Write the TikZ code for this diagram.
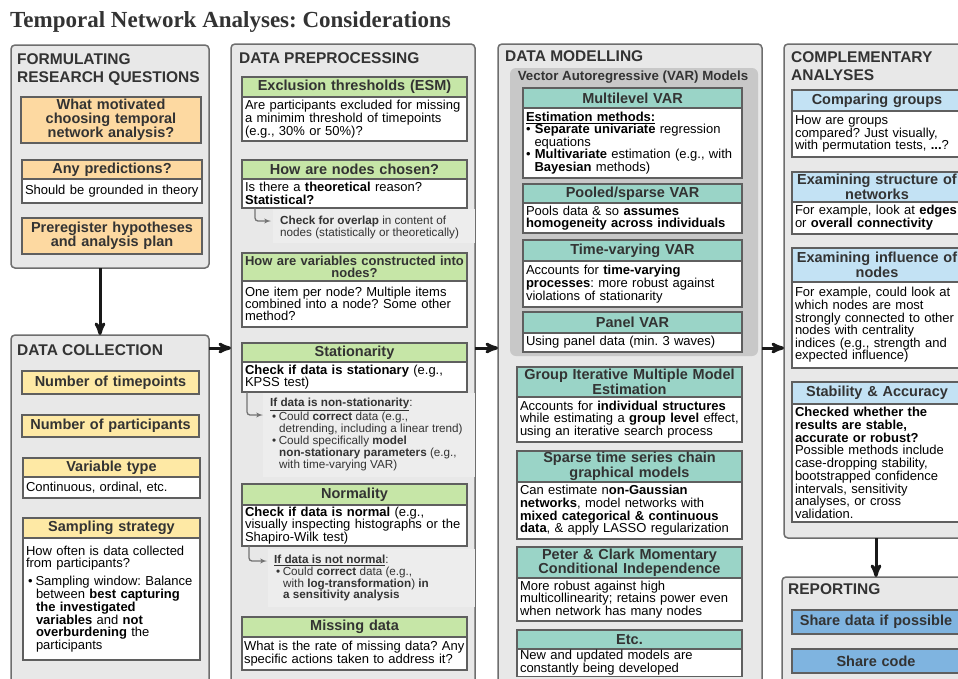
\documentclass[tikz,border=0pt]{standalone}
\usepackage{fontspec}
\setmainfont{Liberation Sans}
\newfontfamily\headlinefont{Liberation Serif}
\usetikzlibrary{arrows,positioning}

\definecolor{ink}{HTML}{333333}
\definecolor{panelgray}{HTML}{E8E8E8}
\definecolor{paneledge}{HTML}{6E6E6E}
\definecolor{boxedge}{HTML}{5F5F5F}
\definecolor{varbg}{HTML}{C8C8C8}
\definecolor{notebg}{HTML}{EDEDED}
\definecolor{orangehd}{HTML}{FDD9A1}
\definecolor{yellowhd}{HTML}{FEE9A5}
\definecolor{greenhd}{HTML}{C6E6A7}
\definecolor{tealhd}{HTML}{9AD4C7}
\definecolor{bluehd}{HTML}{C3E2F4}
\definecolor{bluedark}{HTML}{7FB4E0}

\newcommand{\bodyfnt}{\fontsize{13}{13.3}\selectfont}
\newcommand{\headfnt}{\bfseries\fontsize{14.5}{14}\selectfont}
\newcommand{\notefnt}{\fontsize{11.7}{12}\selectfont}
\newcommand{\panelfnt}{\bfseries\fontsize{15.5}{18.5}\selectfont}

\begin{document}
\frenchspacing
\begin{tikzpicture}[x=1pt,y=-1pt,>=stealth',
  panel/.style={draw=paneledge,fill=panelgray,line width=1.5pt,rounded corners=4pt,anchor=north west,inner sep=0pt,outer sep=0pt},
  panel title/.style={anchor=north west,inner sep=0pt,font=\panelfnt,text=ink,align=left},
  head/.style={draw=boxedge,line width=1.3pt,anchor=north west,align=center,font=\headfnt,text=ink,inner xsep=3pt,inner ysep=1pt,outer sep=0pt},
  body/.style={draw=boxedge,line width=1.3pt,fill=white,align=left,font=\bodyfnt,inner xsep=3pt,inner ysep=1pt,outer sep=0pt},
  note/.style={anchor=north west,inner sep=0pt,font=\notefnt,text=ink,align=left},
  note bg/.style={fill=notebg,anchor=north west,inner sep=0pt,outer sep=0pt},
  big arrow/.style={->,line width=3pt,draw=black!90},
  note arrow/.style={-latex',line width=1.3pt,draw=black!55,rounded corners=3pt},
  formw/.style={text width=174pt},
  collw/.style={text width=171pt},
  prepw/.style={text width=219pt},
  varw/.style={text width=213pt},
  modw/.style={text width=219pt},
  compw/.style={text width=164pt},
  repw/.style={text width=162pt}]

  \useasboundingbox (0,0) rectangle (958,678);
  \clip (0,0) rectangle (958,678);
  \fill[white] (0,0) rectangle (958,678);

  \node[anchor=north west,inner sep=0pt,text=ink,font=\headlinefont\bfseries\fontsize{23}{25}\selectfont] (title) at (10,11) {Temporal Network Analyses: Considerations};

  % formulating research questions
  \node[panel,minimum width=198pt,minimum height=223pt] (form) at (11,45) {};
  \node[panel title] (formt) at (17,53) {FORMULATING\\RESEARCH QUESTIONS};
  \node[head,formw,fill=orangehd,minimum height=46pt] (motiv) at (21,97) {What motivated\\choosing temporal\\network analysis?};
  \node[head,formw,fill=orangehd,minimum height=19pt] (pred) at (22,160) {Any predictions?};
  \node[body,formw,minimum height=24pt] (predb) [below=0pt of pred] {Should be grounded in theory};
  \node[head,formw,fill=orangehd,minimum height=36pt] (prereg) at (22,218) {Preregister hypotheses\\and analysis plan};

  % data collection
  \node[panel,minimum width=198pt,minimum height=400pt] (collect) at (11,335) {};
  \node[panel title] (collectt) at (17,344) {DATA COLLECTION};
  \node[head,collw,fill=yellowhd,minimum height=23pt] (tpts) at (22,371) {Number of timepoints};
  \node[head,collw,fill=yellowhd,minimum height=22pt] (parts) at (22,415) {Number of participants};
  \node[head,collw,fill=yellowhd,minimum height=19pt] (vtype) at (23,458) {Variable type};
  \node[body,collw,minimum height=21pt] (vtypeb) [below=0pt of vtype] {Continuous, ordinal, etc.};
  \node[head,collw,fill=yellowhd,minimum height=20pt] (samp) at (23,518) {Sampling strategy};
  \node[body,collw,minimum height=122pt,font=\fontsize{13}{12.8}\selectfont] (sampb) [below=0pt of samp] {How often is data collected\\from participants?\\[5pt]
    \hspace*{2pt}\textbullet\hspace{3pt}Sampling window: Balance\\
    \hspace*{10pt}between \textbf{best capturing}\\
    \hspace*{10pt}\textbf{the investigated}\\
    \hspace*{10pt}\textbf{variables} and \textbf{not}\\
    \hspace*{10pt}\textbf{overburdening} the\\
    \hspace*{10pt}participants};

  % data preprocessing
  \node[panel,minimum width=244pt,minimum height=700pt] (prep) at (231,44) {};
  \node[panel title] (prept) at (239,52) {DATA PREPROCESSING};
  \node[head,prepw,fill=greenhd,minimum height=20pt] (excl) at (242,77) {Exclusion thresholds (ESM)};
  \node[body,prepw,minimum height=44pt] (exclb) [below=0pt of excl] {Are participants excluded for missing\\a minimim threshold of timepoints\\(e.g., 30\% or 50\%)?};
  \node[head,prepw,fill=greenhd,minimum height=19pt] (chos) at (242,160) {How are nodes chosen?};
  \node[body,prepw,minimum height=29pt,font=\fontsize{13}{12.5}\selectfont] (chosb) [below=0pt of chos] {Is there a \textbf{theoretical} reason?\\\textbf{Statistical?}};
  \node[note bg,minimum width=202pt,minimum height=34pt] (ovlbg) at (273,209) {};
  \node[note] (ovl) at (280,216) {\textbf{Check for overlap} in content of\\nodes (statistically or theoretically)};
  \node[head,prepw,fill=greenhd,minimum height=28pt,inner xsep=1pt,text width=223pt,font=\bfseries\fontsize{13}{12}\selectfont] (vars) at (242,253) {How are variables constructed into\\nodes?};
  \node[body,prepw,minimum height=46pt,font=\fontsize{13}{12.3}\selectfont] (varsb) [below=0pt of vars] {One item per node? Multiple items\\combined into a node? Some other\\method?};
  \node[head,prepw,fill=greenhd,minimum height=19pt] (stat) at (242,343) {Stationarity};
  \node[body,prepw,minimum height=30pt,font=\fontsize{13}{12.5}\selectfont] (statb) [below=0pt of stat] {\textbf{Check if data is stationary} (e.g.,\\KPSS test)};
  \node[note bg,minimum width=212pt,minimum height=84pt] (stnbg) at (263,393) {};
  \node[note] (stn) at (270,398) {\underline{\textbf{If data is non-stationarity}}:\\
    \hspace*{2pt}\textbullet\hspace{2.5pt}Could \textbf{correct} data (e.g.,\\
    \hspace*{9pt}detrending, including a linear trend)\\
    \hspace*{2pt}\textbullet\hspace{2.5pt}Could specifically \textbf{model}\\
    \hspace*{9pt}\textbf{non-stationary parameters} (e.g.,\\
    \hspace*{9pt}with time-varying VAR)};
  \node[head,prepw,fill=greenhd,minimum height=21pt] (norm) at (242,484) {Normality};
  \node[body,prepw,minimum height=41pt,font=\fontsize{13}{12.8}\selectfont] (normb) [below=0pt of norm] {\textbf{Check if data is normal} (e.g.,\\visually inspecting histographs or the\\Shapiro-Wilk test)};
  \node[note bg,minimum width=207pt,minimum height=58pt] (nrmbg) at (268,549) {};
  \node[note,font=\fontsize{11.7}{11.7}\selectfont] (nrm) at (274,555) {\underline{\textbf{If data is not normal}}:\\
    \hspace*{2pt}\textbullet\hspace{2.5pt}Could \textbf{correct} data (e.g.,\\
    \hspace*{9pt}with \textbf{log-transformation}) \textbf{in}\\
    \hspace*{9pt}\textbf{a sensitivity analysis}};
  \node[head,prepw,fill=greenhd,minimum height=20pt] (miss) at (242,617) {Missing data};
  \node[body,prepw,minimum height=33pt,inner xsep=2pt,text width=221pt,font=\fontsize{13}{12.8}\selectfont] (missb) [below=0pt of miss] {What is the rate of missing data? Any\\specific actions taken to address it?};

  % data modelling
  \node[panel,minimum width=264pt,minimum height=700pt] (model) at (498,44) {};
  \node[panel title] (modelt) at (505,50) {DATA MODELLING};
  \node[fill=varbg,rounded corners=6pt,anchor=north west,inner sep=0pt,outer sep=0pt,minimum width=248pt,minimum height=288pt] (vargrp) at (510,68) {};
  \node[inner sep=0pt,text=ink,font=\bfseries\fontsize{13.3}{14}\selectfont] (vart) at (633,77) {Vector Autoregressive (VAR) Models};
  \node[head,varw,fill=tealhd,minimum height=20pt] (mlv) at (523,88) {Multilevel VAR};
  \node[body,varw,minimum height=70pt,font=\fontsize{13}{12.5}\selectfont] (mlvb) [below=0pt of mlv] {\underline{\textbf{Estimation methods:}}\\
    \textbullet\ \textbf{Separate univariate} regression\\
    \hspace*{8.5pt}equations\\
    \textbullet\ \textbf{Multivariate} estimation (e.g., with\\
    \hspace*{8.5pt}\textbf{Bayesian} methods)};
  \node[head,varw,fill=tealhd,minimum height=19pt] (pool) at (523,184) {Pooled/sparse VAR};
  \node[body,varw,minimum height=30pt,font=\fontsize{13}{12.5}\selectfont] (poolb) [below=0pt of pool] {Pools data \& so \textbf{assumes}\\\textbf{homogeneity across individuals}};
  \node[head,varw,fill=tealhd,minimum height=21pt] (tvar) at (523,240) {Time-varying VAR};
  \node[body,varw,minimum height=46pt,font=\fontsize{13}{12.8}\selectfont] (tvarb) [below=0pt of tvar] {Accounts for \textbf{time-varying}\\\textbf{processes}: more robust against\\violations of stationarity};
  \node[head,varw,fill=tealhd,minimum height=21pt] (pvar) at (523,312) {Panel VAR};
  \node[body,varw,minimum height=19pt] (pvarb) [below=0pt of pvar] {Using panel data (min. 3 waves)};
  \node[head,modw,fill=tealhd,minimum height=30pt,font=\bfseries\fontsize{14.5}{12}\selectfont] (gimme) at (517,367) {Group Iterative Multiple Model\\Estimation};
  \node[body,modw,minimum height=45pt,font=\fontsize{13}{12.8}\selectfont] (gimmeb) [below=0pt of gimme] {Accounts for \textbf{individual structures}\\while estimating a \textbf{group level} effect,\\using an iterative search process};
  \node[head,modw,fill=tealhd,minimum height=31pt,font=\bfseries\fontsize{14.5}{13.5}\selectfont] (sparse) at (517,451) {Sparse time series chain\\graphical models};
  \node[body,modw,minimum height=57pt,font=\fontsize{13}{12.7}\selectfont] (sparseb) [below=0pt of sparse] {Can estimate n\textbf{on-Gaussian}\\\textbf{networks}, model networks with\\\textbf{mixed categorical \& continuous}\\\textbf{data}, \& apply LASSO regularization};
  \node[head,modw,fill=tealhd,minimum height=31pt,font=\bfseries\fontsize{14.5}{11.5}\selectfont] (pcmci) at (517,547) {Peter \& Clark Momentary\\Conditional Independence};
  \node[body,modw,minimum height=43pt,font=\fontsize{13}{12.8}\selectfont] (pcmcib) [below=0pt of pcmci] {More robust against high\\multicollinearity; retains power even\\when network has many nodes};
  \node[head,modw,fill=tealhd,minimum height=19pt] (etc) at (517,630) {Etc.};
  \node[body,modw,minimum height=27pt,font=\fontsize{13}{11.5}\selectfont] (etcb) [below=0pt of etc] {New and updated models are\\constantly being developed};

  % complementary analyses
  \node[panel,minimum width=190pt,minimum height=494pt] (comp) at (784,44) {};
  \node[panel title] (compt) at (791,51) {COMPLEMENTARY\\ANALYSES};
  \node[head,compw,fill=bluehd,minimum height=21pt] (cmpg) at (792,90) {Comparing groups};
  \node[body,compw,minimum height=46pt,font=\fontsize{13}{12.5}\selectfont] (cmpgb) [below=0pt of cmpg] {How are groups\\compared? Just visually,\\with permutation tests, \textbf{...}?};
  \node[head,compw,fill=bluehd,minimum height=30pt,font=\bfseries\fontsize{14.5}{11}\selectfont] (struc) at (792,172) {Examining structure of\\networks};
  \node[body,compw,minimum height=32pt,font=\fontsize{13}{12}\selectfont] (strucb) [below=0pt of struc] {For example, look at \textbf{edges}\\or \textbf{overall connectivity}};
  \node[head,compw,fill=bluehd,minimum height=34pt,font=\bfseries\fontsize{14.5}{12}\selectfont] (infl) at (792,248) {Examining influence of\\nodes};
  \node[body,compw,minimum height=86pt,font=\fontsize{13}{12.6}\selectfont] (inflb) [below=0pt of infl] {For example, could look at\\which nodes are most\\strongly connected to other\\nodes with centrality\\indices (e.g., strength and\\expected influence)};
  \node[head,compw,fill=bluehd,minimum height=22pt] (stab) at (792,382) {Stability \& Accuracy};
  \node[body,compw,minimum height=118pt,font=\fontsize{13}{12.7}\selectfont] (stabb) [below=0pt of stab] {\textbf{Checked whether the}\\\textbf{results are stable,}\\\textbf{accurate or robust?}\\Possible methods include\\case-dropping stability,\\bootstrapped confidence\\intervals, sensitivity\\analyses, or cross\\validation.};

  % reporting
  \node[panel,minimum width=190pt,minimum height=200pt] (rep) at (782,577) {};
  \node[panel title] (rept) at (788,583) {REPORTING};
  \node[head,repw,fill=bluedark,minimum height=24pt] (shd) at (792,610) {Share data if possible};
  \node[head,repw,fill=bluedark,minimum height=24pt] (shc) at (792,649) {Share code};

  \coordinate (flow) at (0,348);
  \draw[big arrow] ([xshift=-10pt]form.south) -- ([xshift=-10pt]collect.north);
  \draw[big arrow] (collect.east |- flow) -- (prep.west |- flow);
  \draw[big arrow] (prep.east |- flow) -- (model.west |- flow);
  \draw[big arrow] (model.east |- flow) -- (comp.west |- flow);
  \draw[big arrow] ([xshift=-3pt]comp.south) -- ([xshift=-3pt]comp.south |- rep.north);

  \draw[note arrow] ([xshift=13pt]chosb.south west) |- ([xshift=-9pt,yshift=-5pt]ovl.north west);
  \draw[note arrow] ([xshift=5pt]statb.south west) |- ([xshift=-7pt,yshift=-17pt]stn.north west);
  \draw[note arrow] ([xshift=7pt]normb.south west) |- ([xshift=-7pt,yshift=-6pt]nrm.north west);
\end{tikzpicture}
\end{document}
